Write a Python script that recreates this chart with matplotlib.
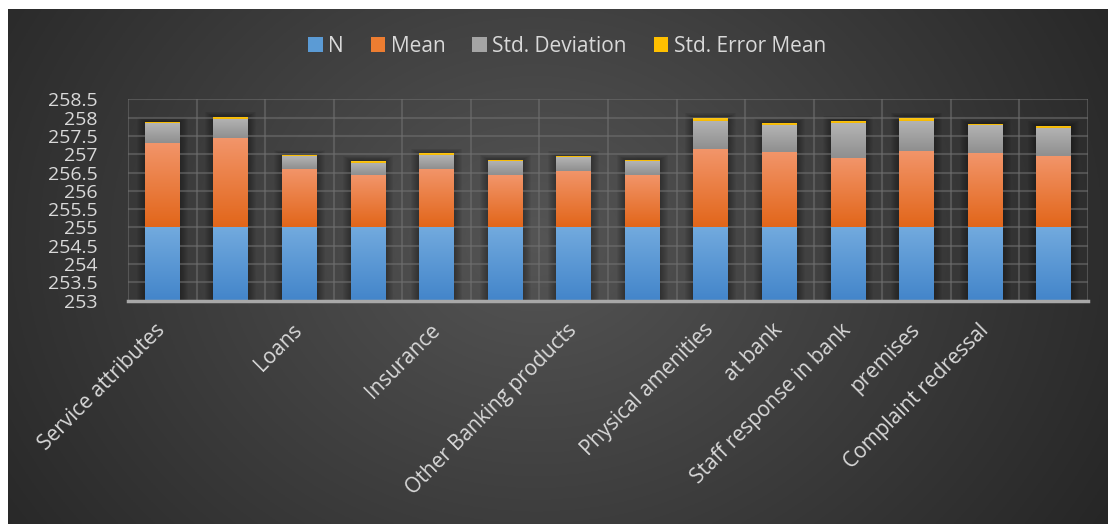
import numpy as np
import matplotlib
matplotlib.use('Agg')
import matplotlib.pyplot as plt
from matplotlib.patches import Patch, Rectangle

# data
categories = ['Service attributes', '', 'Loans', '', 'Insurance', '', 'Other Banking products', '',
              'Physical amenities', 'at bank', 'Staff response in bank', 'premises', 'Complaint redressal', '']
n_vals = [255] * 14
mean_vals = [2.32, 2.43, 1.59, 1.42, 1.61, 1.42, 1.55, 1.44, 2.13, 2.07, 1.91, 2.10, 2.02, 1.94]
sd_vals = [0.53, 0.53, 0.35, 0.35, 0.37, 0.39, 0.37, 0.37, 0.79, 0.72, 0.94, 0.82, 0.77, 0.77]
se_vals = [0.035, 0.07, 0.045, 0.05, 0.04, 0.045, 0.045, 0.045, 0.08, 0.07, 0.07, 0.08, 0.045, 0.07]
series_names = ['N', 'Mean', 'Std. Deviation', 'Std. Error Mean']

plt.rcParams['font.family'] = ['Open Sans', 'DejaVu Sans']
txt = '#d9d9d9'

W, H = 1108, 524
fig = plt.figure(figsize=(W / 100, H / 100), dpi=100, facecolor='white')

# dark radial background
bg = fig.add_axes([8 / W, 0, 1 - 8 / W, 1 - 9 / H], zorder=-10)
yy, xx = np.mgrid[0:1:300j, 0:1:600j]
r = np.sqrt(((xx - 0.48) / 0.62) ** 2 + ((yy - 0.45) / 1.1) ** 2)
r = np.clip(r, 0, 1)
c0, c1 = np.array([0x55, 0x55, 0x55]) / 255, np.array([0x25, 0x25, 0x25]) / 255
img = c0[None, None, :] * (1 - r[..., None]) + c1[None, None, :] * r[..., None]
bg.imshow(img, aspect='auto', extent=[0, 1, 0, 1], origin='upper')
bg.axis('off')

ax = fig.add_axes([128 / W, (H - 300.7) / H, 960 / W, 201.4 / H])
ax.patch.set_alpha(0)

x = np.arange(1, len(categories) + 1)
width = 0.51
ymin, ymax = 253, 258.5
px_x = 960 / 14          # pixels per x unit
px_y = 201.4 / 5.5       # pixels per y unit

grads = [('#72aade', '#4385ca'), ('#f2956a', '#e2661a'), ('#b4b4b4', '#8f8f8f'), ('#ffc91a', '#f5b800')]
legend_cols = ['#5b9bd5', '#ed7d31', '#a5a5a5', '#ffc000']

def grad_fill(rect, top, bot):
    x0, y0 = rect.get_x(), max(rect.get_y(), ymin)
    x1, y1 = x0 + rect.get_width(), rect.get_y() + rect.get_height()
    if y1 <= y0:
        return
    t = np.linspace(0, 1, 64)[:, None]
    ct = np.array(matplotlib.colors.to_rgb(top))
    cb = np.array(matplotlib.colors.to_rgb(bot))
    g = ct * (1 - t[..., None]) + cb * t[..., None]
    g = np.repeat(g, 2, axis=1)
    im = ax.imshow(g, extent=[x0, x1, y0, y1], aspect='auto', origin='upper', zorder=3)
    im.set_clip_path(rect)

# soft shadows behind the stacks
totals = np.array(n_vals) + np.array(mean_vals) + np.array(sd_vals) + np.array(se_vals)
for xi, tot in zip(x, totals):
    for k in range(1, 9):
        dx, dy = k / px_x, k / px_y
        ax.add_patch(Rectangle((xi - width / 2 - dx, ymin), width + 2 * dx, tot - ymin + dy * 0.6,
                               facecolor='black', alpha=0.045, linewidth=0, zorder=1))

bottom = np.zeros(len(x))
for vals, (top, bot), col in zip([n_vals, mean_vals, sd_vals, se_vals], grads, legend_cols):
    bars = ax.bar(x, vals, width, bottom=bottom, color=col, zorder=2, linewidth=0)
    for b in bars:
        grad_fill(b, top, bot)
    bottom = bottom + np.array(vals)

ax.set_xlim(0.5, len(x) + 0.5)
ax.set_ylim(ymin, ymax)
ax.set_yticks(np.arange(253, 258.51, 0.5))
ax.set_yticklabels([f'{v:g}' for v in np.arange(253, 258.51, 0.5)])
ax.set_xticks(x)
ax.set_xticklabels(categories, rotation=45, ha='right', va='center', rotation_mode='anchor')
ax.set_xticks(np.arange(0.5, len(x) + 1, 1), minor=True)
ax.tick_params(axis='both', which='both', length=0, colors=txt)
ax.tick_params(axis='y', pad=22, labelsize=14)
ax.tick_params(axis='x', pad=19, labelsize=15)
ax.grid(True, axis='y', color='#707070', alpha=0.55, lw=1.5, zorder=0)
ax.grid(True, axis='x', which='minor', color='#707070', alpha=0.55, lw=1.5, zorder=0)
for s in ['top', 'right', 'left']:
    ax.spines[s].set_visible(False)
ax.spines['bottom'].set_color('#a8a8a8')
ax.spines['bottom'].set_linewidth(2.5)
ax.spines['bottom'].set_zorder(5)

handles = [Patch(facecolor=c, label=n) for c, n in zip(legend_cols, series_names)]
fig.legend(handles=handles, loc='center', bbox_to_anchor=(567 / W, 1 - 46 / H), ncol=4, frameon=False,
           fontsize=15, labelcolor=txt, handlelength=0.7, handleheight=0.7, handletextpad=0.25,
           columnspacing=1.3)

fig.savefig('out.png', dpi=100, facecolor='white')
